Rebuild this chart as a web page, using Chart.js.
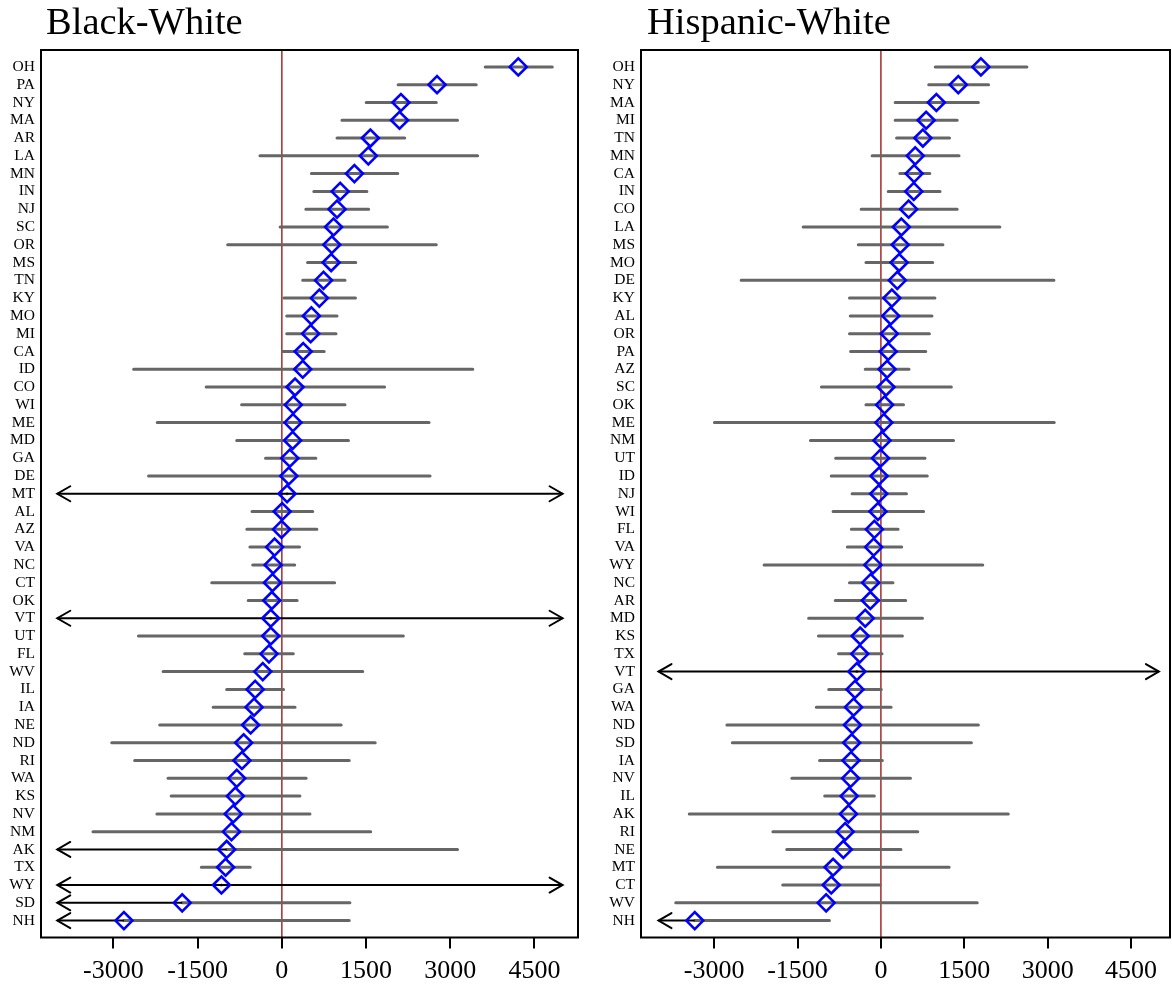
<!DOCTYPE html>
<html><head><meta charset="utf-8">
<script src="https://cdn.jsdelivr.net/npm/chart.js@4/dist/chart.umd.min.js"></script>
<style>
html,body{margin:0;padding:0;background:#fff;overflow:hidden;}
#wrap{position:relative;width:1172px;height:986px;background:#fff;}
.panel{position:absolute;top:0;height:986px;}
</style></head><body>
<div id="wrap">
<div class="panel" style="left:0;width:590px"><canvas id="c1"></canvas></div>
<div class="panel" style="left:590px;width:582px"><canvas id="c2"></canvas></div>
</div>
<script>
// ---------- data ----------
const xTickValues = [-3000, -1500, 0, 1500, 3000, 4500];
const arrowMin = -4000;
const arrowMax = 5000;

const bwTitle = 'Black-White';
const bwStates = ['OH','PA','NY','MA','AR','LA','MN','IN','NJ','SC','OR','MS','TN','KY','MO','MI','CA','ID','CO','WI','ME','MD','GA','DE','MT','AL','AZ','VA','NC','CT','OK','VT','UT','FL','WV','IL','IA','NE','ND','RI','WA','KS','NV','NM','AK','TX','WY','SD','NH'];
const bwEst = [4211,2764,2121,2096,1577,1540,1292,1039,983,921,890,878,742,668,526,513,380,372,235,204,198,192,142,124,93,6,-6,-130,-155,-167,-179,-198,-198,-229,-340,-476,-495,-556,-680,-711,-804,-829,-866,-897,-983,-1002,-1076,-1775,-2813];
const bwLo = [3623,2071,1502,1070,983,-390,526,569,427,-31,-965,458,371,37,87,87,10,-2640,-1348,-717,-2220,-804,-291,-2374,-6000,-532,-624,-569,-519,-1249,-600,-6500,-2554,-662,-2115,-983,-1224,-2176,-3030,-2622,-2028,-1972,-2226,-3364,-5200,-1434,-6200,-4800,-4600];
const bwHi = [4817,3462,2751,3129,2189,3487,2065,1515,1546,1880,2751,1317,1125,1311,983,965,754,3401,1830,1125,2622,1187,606,2640,6200,550,624,315,229,940,272,6000,2164,204,1441,31,235,1057,1663,1200,433,322,501,1583,3129,-563,5800,1212,1200];

const hwTitle = 'Hispanic-White';
const hwStates = ['OH','NY','MA','MI','TN','MN','CA','IN','CO','LA','MS','MO','DE','KY','AL','OR','PA','AZ','SC','OK','ME','NM','UT','ID','NJ','WI','FL','VA','WY','NC','AR','MD','KS','TX','VT','GA','WA','ND','SD','IA','NV','IL','AK','RI','NE','MT','CT','WV','NH'];
const hwEst = [1799,1392,998,814,755,617,597,591,499,368,348,328,295,197,177,151,131,112,92,66,53,20,-7,-33,-39,-53,-118,-131,-144,-184,-190,-282,-372,-380,-433,-466,-492,-512,-525,-538,-545,-571,-584,-643,-676,-860,-893,-985,-3348];
const hwLo = [978,860,256,256,282,-158,341,131,-355,-1398,-407,-269,-2514,-565,-551,-565,-545,-282,-1070,-269,-2994,-1267,-814,-893,-519,-860,-532,-604,-2101,-565,-821,-1300,-1123,-762,-6000,-939,-1162,-2770,-2672,-1103,-1602,-1011,-3447,-1943,-1694,-2941,-1766,-3690,-4700];
const hwHi = [2626,1937,1753,1372,1234,1405,880,1064,1372,2140,1116,932,3112,972,919,873,807,506,1267,407,3118,1306,794,834,460,768,309,374,1832,217,446,748,387,20,6000,7,184,1753,1628,26,532,-118,2291,663,361,1228,-13,1733,-926];

// ---------- drawing ----------
Chart.defaults.font.family = "'Liberation Serif', 'Times New Roman', serif";
Chart.defaults.color = '#000';

function makePanel(canvasId, title, states, est, lo, hi, layout) {
  const rows = states.map((s, i) => i + 1);
  const grayPts = [], blackPts = [], diamonds = [];
  states.forEach((s, i) => {
    const y = rows[i];
    const a = lo[i] < arrowMin ? est[i] : lo[i];
    const b = hi[i] > arrowMax ? est[i] : hi[i];
    grayPts.push({x: a, y: y}, {x: b, y: y}, {x: est[i], y: null});
    if (lo[i] < arrowMin) blackPts.push({x: est[i], y: y}, {x: arrowMin, y: y}, {x: est[i], y: null});
    if (hi[i] > arrowMax) blackPts.push({x: est[i], y: y}, {x: arrowMax, y: y}, {x: est[i], y: null});
    diamonds.push({x: est[i], y: y});
  });

  const boxPlugin = {
    id: 'panelDecor',
    afterLayout(chart) {
      if (chart.titleBlock) { chart.titleBlock.left += layout.titleShift; }
    },
    afterDatasetsDraw(chart) {
      const {ctx, scales} = chart;
      const xs = scales.x, ys = scales.y;
      ctx.save();
      ctx.strokeStyle = '#000';
      ctx.lineWidth = 2;
      ctx.lineCap = 'round';
      const L = 15, ang = Math.PI / 6;
      states.forEach((s, i) => {
        const py = ys.getPixelForValue(rows[i]);
        const tips = [];
        if (lo[i] < arrowMin) tips.push([xs.getPixelForValue(arrowMin), -1]);
        if (hi[i] > arrowMax) tips.push([xs.getPixelForValue(arrowMax), 1]);
        tips.forEach(([px, dir]) => {
          ctx.beginPath();
          ctx.moveTo(px - dir * L * Math.cos(ang), py - L * Math.sin(ang));
          ctx.lineTo(px, py);
          ctx.lineTo(px - dir * L * Math.cos(ang), py + L * Math.sin(ang));
          ctx.stroke();
        });
      });
      ctx.restore();
    },
    afterDraw(chart) {
      const {ctx, chartArea: ca} = chart;
      ctx.save();
      ctx.strokeStyle = '#000';
      ctx.lineWidth = 2;
      ctx.strokeRect(ca.left, ca.top, ca.right - ca.left, ca.bottom - ca.top);
      ctx.restore();
    }
  };

  return new Chart(document.getElementById(canvasId), {
    type: 'scatter',
    data: {
      datasets: [
        {
          type: 'scatter', label: 'estimate', data: diamonds, order: 0,
          pointStyle: 'rectRot', pointRadius: 8.5, pointHoverRadius: 8.5,
          pointBorderColor: '#0000FF', pointBackgroundColor: 'rgba(0,0,0,0)',
          pointBorderWidth: 2.6, borderColor: '#0000FF', backgroundColor: 'rgba(0,0,0,0)'
        },
        {
          type: 'line', label: 'beyond range', data: blackPts, order: 1,
          borderColor: '#000', borderWidth: 2, pointRadius: 0, spanGaps: false,
          tension: 0, fill: false
        },
        {
          type: 'line', label: 'interval', data: grayPts, order: 2,
          borderColor: '#666666', borderWidth: 3, pointRadius: 0, spanGaps: false,
          borderCapStyle: 'round', tension: 0, fill: false
        },
        {
          type: 'line', label: 'zero', data: [{x: 0, y: layout.yMin}, {x: 0, y: layout.yMax}], order: 3,
          borderColor: '#A52A2A', borderWidth: 1.5, pointRadius: 0, tension: 0, fill: false
        }
      ]
    },
    options: {
      responsive: true,
      maintainAspectRatio: false,
      animation: false,
      events: [],
      layout: {autoPadding: false, padding: {left: 0, right: layout.padRight, top: 0, bottom: 0}},
      plugins: {
        legend: {display: false},
        tooltip: {enabled: false},
        title: {
          display: true, text: title, align: 'start', fullSize: false,
          color: '#000',
          font: {size: 38.5, weight: 'normal', lineHeight: 1.2},
          padding: {top: 0.3, bottom: 3.5}
        }
      },
      scales: {
        x: {
          type: 'linear', position: 'bottom',
          min: layout.xMin, max: layout.xMax,
          afterBuildTicks: (sc) => { sc.ticks = xTickValues.map(v => ({value: v})); },
          afterFit: (sc) => { sc.height = 48.5; sc.paddingLeft = 0; sc.paddingRight = 0; },
          ticks: {
            autoSkip: false, maxRotation: 0, padding: 7,
            font: {size: 26}, color: '#000',
            callback: (v) => String(v)
          },
          grid: {display: true, drawOnChartArea: false, drawTicks: true, tickLength: 11, color: '#000', lineWidth: 2},
          border: {display: false}
        },
        y: {
          type: 'linear', position: 'left', reverse: true,
          min: layout.yMin, max: layout.yMax,
          afterBuildTicks: (sc) => { sc.ticks = rows.map(v => ({value: v})); },
          afterFit: (sc) => { sc.width = layout.yAxisWidth; sc.paddingTop = 0; sc.paddingBottom = 0; },
          ticks: {
            autoSkip: false, padding: 6, font: {size: 15.5}, color: '#000',
            callback: (v) => states[v - 1] || ''
          },
          grid: {display: false, drawTicks: false},
          border: {display: false}
        }
      }
    },
    plugins: [boxPlugin]
  });
}

makePanel('c1', bwTitle, bwStates, bwEst, bwLo, bwHi,
  {xMin: -4290, xMax: 5275, yMin: 0.05, yMax: 49.95, yAxisWidth: 41, padRight: 12, titleShift: 5});
makePanel('c2', hwTitle, hwStates, hwEst, hwLo, hwHi,
  {xMin: -4315, xMax: 5200, yMin: 0.05, yMax: 49.95, yAxisWidth: 51, padRight: 2, titleShift: 6});
</script>
</body></html>
